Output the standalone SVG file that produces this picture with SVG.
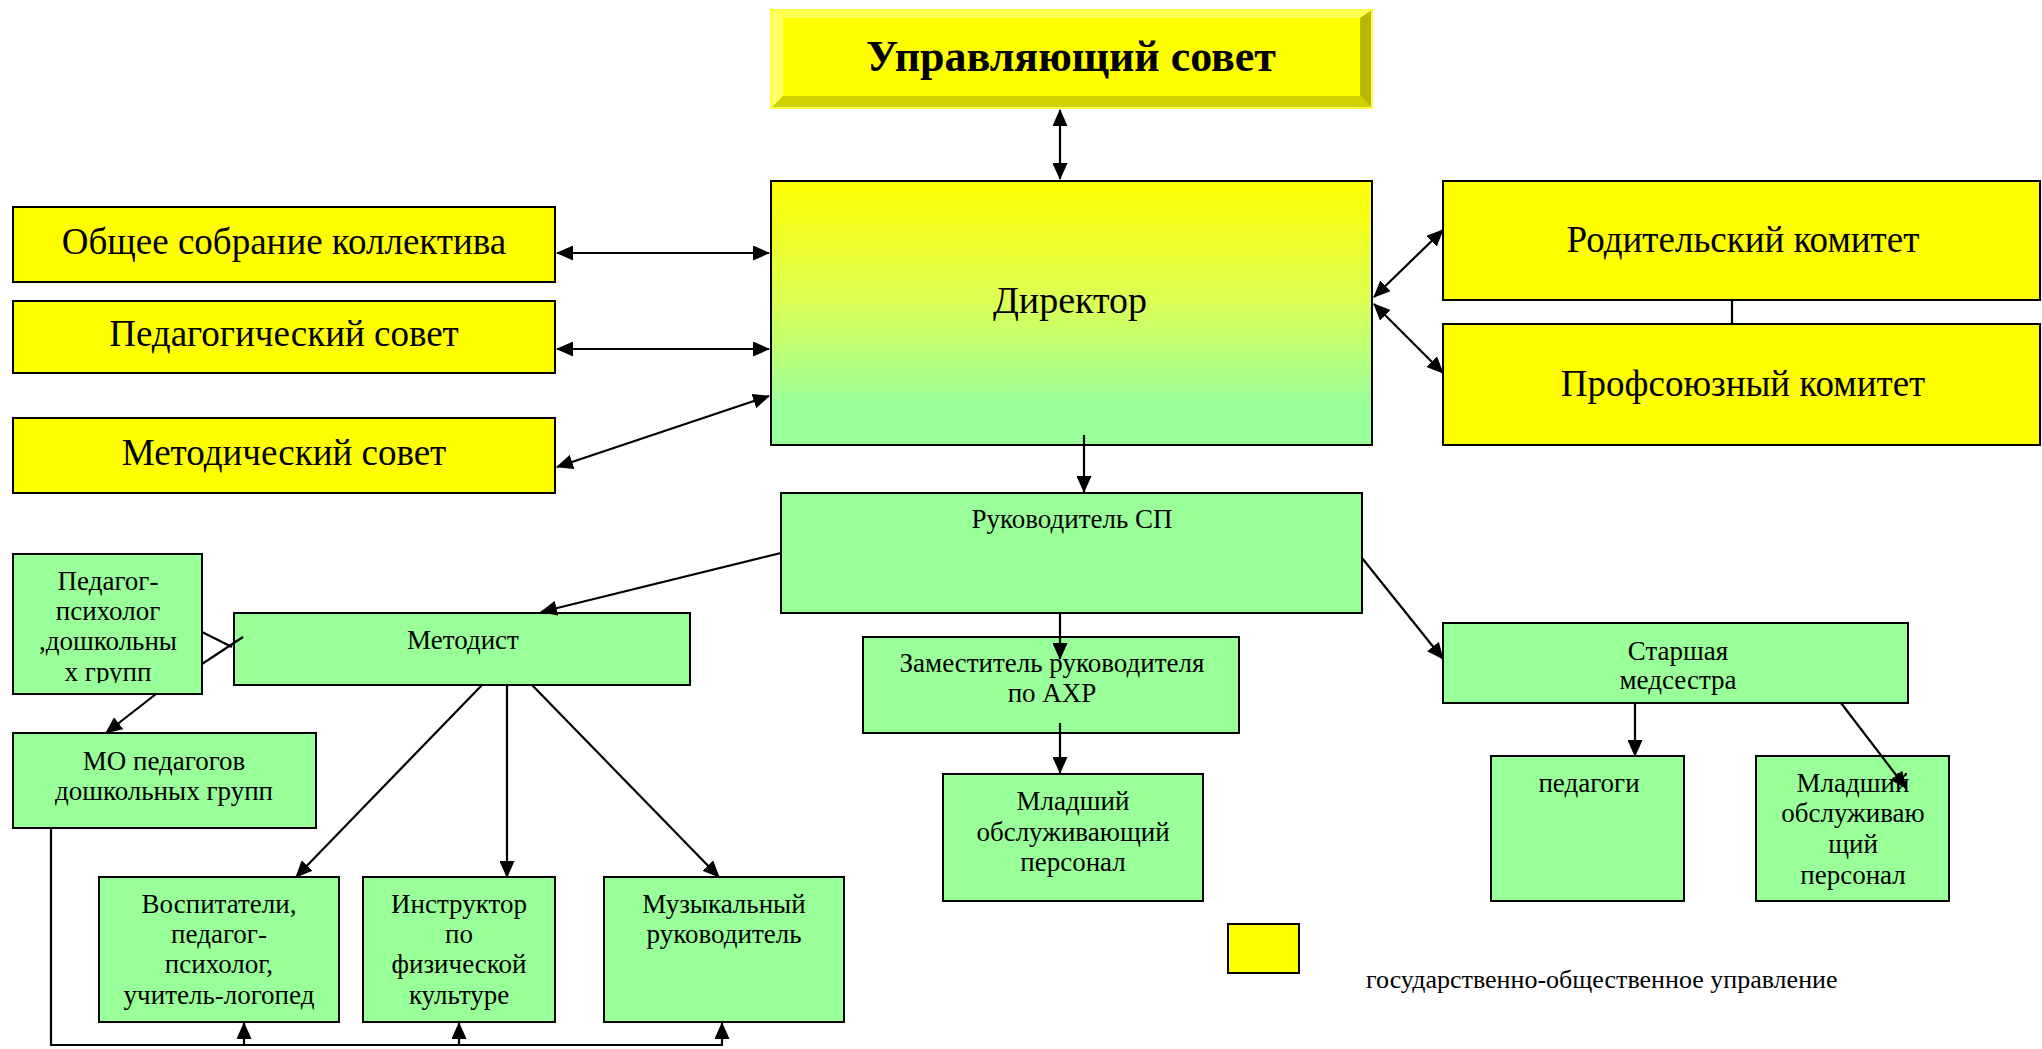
<svg xmlns="http://www.w3.org/2000/svg" width="2042" height="1049" viewBox="0 0 2042 1049">
<style>
.y{fill:#FFFF00;stroke:#000;stroke-width:2}
.g{fill:#99FF99;stroke:#000;stroke-width:2}
.t{font-family:"Liberation Serif","Times New Roman",serif;fill:#000;text-anchor:middle}
.big{font-size:37px}
.sm{font-size:27px}
.c{fill:none;stroke:#000;stroke-width:2.2}
</style>
<defs>
<linearGradient id="dir" x1="0" y1="0" x2="0" y2="1">
<stop offset="0" stop-color="#FFFF00"/>
<stop offset="0.45" stop-color="#DDFF55"/>
<stop offset="0.85" stop-color="#99FF99"/>
<stop offset="1" stop-color="#99FF99"/>
</linearGradient>
<marker id="ah" markerWidth="17" markerHeight="15" refX="16" refY="7.5" orient="auto-start-reverse" markerUnits="userSpaceOnUse">
<path d="M0,0 L17,7.5 L0,15 Z" fill="#000"/>
</marker>
<clipPath id="clipPP"><rect x="13" y="554" width="190" height="129"/></clipPath>
</defs>

<g id="upr-sovet">
<rect x="771" y="10" width="601" height="98" fill="#FFFF00"/>
<polygon points="771,10 1372,10 1360,18 783,18" fill="#FFFF55"/>
<polygon points="771,10 783,18 783,96 771,108" fill="#FFFF66"/>
<polygon points="1372,10 1372,108 1360,96 1360,18" fill="#B8B800"/>
<polygon points="771,108 783,96 1360,96 1372,108" fill="#D0D000"/>
<rect x="771" y="10" width="601" height="98" fill="none" stroke="#FFFF44" stroke-width="2"/>
<text class="t" x="1071" y="71" font-size="44" font-weight="bold">Управляющий совет</text>
</g>

<g id="direktor">
<rect x="771" y="181" width="601" height="264" fill="url(#dir)" stroke="#000" stroke-width="2"/>
<text class="t" x="1070" y="313" font-size="38">Директор</text>
</g>

<g id="obshchee">
<rect class="y" x="13" y="207" width="542" height="75"/>
<text class="t big" x="284" y="254">Общее собрание коллектива</text>
</g>
<g id="pedsovet">
<rect class="y" x="13" y="301" width="542" height="72"/>
<text class="t big" x="284" y="346">Педагогический совет</text>
</g>
<g id="metodsovet">
<rect class="y" x="13" y="418" width="542" height="75"/>
<text class="t big" x="284" y="465">Методический совет</text>
</g>

<g id="roditel">
<rect class="y" x="1443" y="181" width="597" height="119"/>
<text class="t" x="1743" y="252" font-size="37">Родительский комитет</text>
</g>
<g id="profsoyuz">
<rect class="y" x="1443" y="324" width="597" height="121"/>
<text class="t" x="1743" y="396" font-size="37">Профсоюзный комитет</text>
</g>

<g id="rukovoditel-sp">
<rect class="g" x="781" y="493" width="581" height="120"/>
<text class="t sm" x="1072" y="528">Руководитель СП</text>
</g>

<g id="pedagog-psiholog">
<rect class="g" x="13" y="554" width="189" height="140"/>
<g clip-path="url(#clipPP)">
<text class="t sm" x="108" y="590">Педагог-</text>
<text class="t sm" x="108" y="620">психолог</text>
<text class="t sm" x="108" y="650">,дошкольны</text>
<text class="t sm" x="108" y="681">х групп</text>
</g>
</g>

<g id="metodist">
<rect class="g" x="234" y="613" width="456" height="72"/>
<text class="t sm" x="463" y="649">Методист</text>
</g>

<g id="mo-pedagogov">
<rect class="g" x="13" y="733" width="303" height="95"/>
<text class="t sm" x="164" y="770">МО педагогов</text>
<text class="t sm" x="164" y="800">дошкольных групп</text>
</g>

<g id="vospitateli">
<rect class="g" x="99" y="877" width="240" height="145"/>
<text class="t sm" x="219" y="913">Воспитатели,</text>
<text class="t sm" x="219" y="943">педагог-</text>
<text class="t sm" x="219" y="973">психолог,</text>
<text class="t sm" x="219" y="1004">учитель-логопед</text>
</g>

<g id="instruktor">
<rect class="g" x="363" y="877" width="192" height="145"/>
<text class="t sm" x="459" y="913">Инструктор</text>
<text class="t sm" x="459" y="943">по</text>
<text class="t sm" x="459" y="973">физической</text>
<text class="t sm" x="459" y="1004">культуре</text>
</g>

<g id="muzykalny">
<rect class="g" x="604" y="877" width="240" height="145"/>
<text class="t sm" x="724" y="913">Музыкальный</text>
<text class="t sm" x="724" y="943">руководитель</text>
</g>

<g id="zam-ahr">
<rect class="g" x="863" y="637" width="376" height="96"/>
<text class="t sm" x="1052" y="672">Заместитель руководителя</text>
<text class="t sm" x="1052" y="702">по АХР</text>
</g>

<g id="mladshiy-1">
<rect class="g" x="943" y="774" width="260" height="127"/>
<text class="t sm" x="1073" y="810">Младший</text>
<text class="t sm" x="1073" y="841">обслуживающий</text>
<text class="t sm" x="1073" y="871">персонал</text>
</g>

<g id="starshaya-medsestra">
<rect class="g" x="1443" y="623" width="465" height="80"/>
<text class="t sm" x="1678" y="660">Старшая</text>
<text class="t sm" x="1678" y="689">медсестра</text>
</g>

<g id="pedagogi">
<rect class="g" x="1491" y="756" width="193" height="145"/>
<text class="t sm" x="1589" y="792">педагоги</text>
</g>

<g id="mladshiy-2">
<rect class="g" x="1756" y="756" width="193" height="145"/>
<text class="t sm" x="1853" y="792">Младший</text>
<text class="t sm" x="1853" y="822">обслуживаю</text>
<text class="t sm" x="1853" y="853">щий</text>
<text class="t sm" x="1853" y="884">персонал</text>
</g>

<g id="legend">
<rect class="y" x="1228" y="924" width="71" height="49"/>
<text class="t" x="1366" y="988" font-size="26" style="text-anchor:start">государственно-общественное управление</text>
</g>

<g id="connectors">
<line class="c" x1="1060" y1="110" x2="1060" y2="179" marker-start="url(#ah)" marker-end="url(#ah)"/>
<line class="c" x1="557" y1="253" x2="769" y2="253" marker-start="url(#ah)" marker-end="url(#ah)"/>
<line class="c" x1="557" y1="349" x2="769" y2="349" marker-start="url(#ah)" marker-end="url(#ah)"/>
<line class="c" x1="557" y1="467" x2="769" y2="396" marker-start="url(#ah)" marker-end="url(#ah)"/>
<line class="c" x1="1374" y1="297" x2="1443" y2="230" marker-start="url(#ah)" marker-end="url(#ah)"/>
<line class="c" x1="1374" y1="304" x2="1443" y2="373" marker-start="url(#ah)" marker-end="url(#ah)"/>
<line class="c" x1="1732" y1="300" x2="1732" y2="324"/>
<line class="c" x1="1084" y1="435" x2="1084" y2="492" marker-end="url(#ah)"/>
<line class="c" x1="781" y1="553" x2="541" y2="612" marker-end="url(#ah)"/>
<line class="c" x1="1060" y1="613" x2="1060" y2="659" marker-end="url(#ah)"/>
<line class="c" x1="1060" y1="723" x2="1060" y2="773" marker-end="url(#ah)"/>
<line class="c" x1="1362" y1="558" x2="1443" y2="659" marker-end="url(#ah)"/>
<line class="c" x1="1635" y1="703" x2="1635" y2="756" marker-end="url(#ah)"/>
<line class="c" x1="1841" y1="703" x2="1906" y2="788" marker-end="url(#ah)"/>
<line class="c" x1="202" y1="632" x2="232" y2="647"/>
<line class="c" x1="202" y1="664" x2="243" y2="637"/>
<line class="c" x1="156" y1="694" x2="106" y2="733" marker-end="url(#ah)"/>
<line class="c" x1="482" y1="685" x2="296" y2="877" marker-end="url(#ah)"/>
<line class="c" x1="507" y1="685" x2="507" y2="877" marker-end="url(#ah)"/>
<line class="c" x1="532" y1="685" x2="719" y2="877" marker-end="url(#ah)"/>
<polyline class="c" points="51,828 51,1045 723,1045"/>
<line class="c" x1="244" y1="1045" x2="244" y2="1023" marker-end="url(#ah)"/>
<line class="c" x1="459" y1="1045" x2="459" y2="1023" marker-end="url(#ah)"/>
<line class="c" x1="722" y1="1045" x2="722" y2="1023" marker-end="url(#ah)"/>
</g>
</svg>
